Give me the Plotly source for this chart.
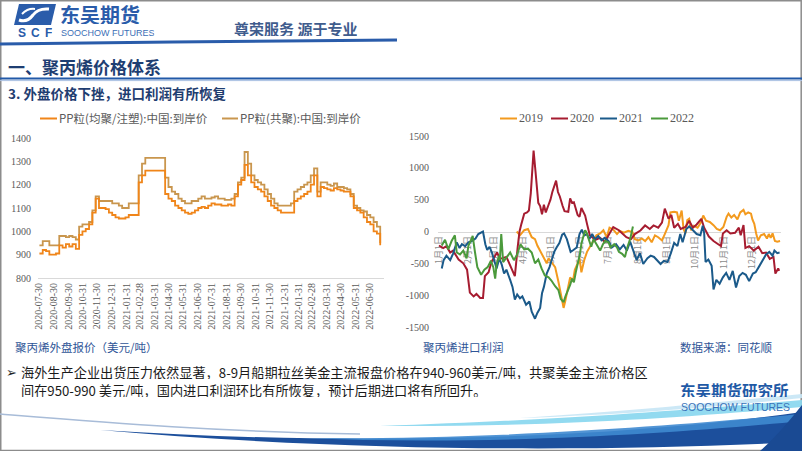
import plotly.graph_objects as go
import pandas as pd

W, H = 802, 451
def X(px): return px / W
def Y(py): return 1 - py / H

def pth(s):
    out, nums = [], []
    for t in s.replace(',', ' ').split():
        if t.isalpha():
            out.append(t)
        else:
            nums.append(float(t))
            if len(nums) == 2:
                out.append(f"{X(nums[0]):.5f},{Y(nums[1]):.5f}")
                nums = []
    return ' '.join(out)

# ---------------- data: left chart (weekly CFR prices, USD/t) ----------------
left_start = "2020-07-31"
pp_homo = [905,920,915,900,900,905,940,930,945,935,
           945,925,985,1000,1010,1030,1080,1140,1100,1100,
           1095,1080,1070,1060,1055,1055,1060,1070,1070,1070,
           1210,1240,1260,1260,1260,1260,1260,1260,1160,1140,
           1130,1110,1100,1090,1080,1075,1080,1090,1100,1105,
           1100,1110,1120,1115,1115,1110,1110,1115,1110,1150,
           1200,1220,1285,1240,1210,1190,1180,1170,1150,1130,
           1110,1100,1090,1080,1080,1080,1080,1130,1140,1150,
           1160,1170,1200,1240,1150,1190,1185,1180,1175,1185,
           1180,1175,1170,1170,1150,1100,1090,1080,1060,1040,
           1030,1000,990,940]
pp_co = [940,958,958,940,940,940,980,980,975,980,
         975,965,1020,1030,1030,1040,1090,1150,1130,1130,
         1130,1130,1120,1120,1110,1100,1100,1120,1120,1120,
         1240,1290,1315,1315,1315,1315,1315,1315,1230,1190,
         1170,1160,1140,1130,1120,1120,1130,1130,1140,1150,
         1140,1140,1145,1150,1140,1140,1135,1135,1140,1160,
         1210,1230,1340,1290,1240,1220,1210,1200,1180,1160,
         1140,1120,1110,1110,1110,1110,1120,1170,1180,1190,
         1200,1210,1240,1270,1170,1210,1210,1200,1195,1205,
         1190,1190,1185,1180,1160,1110,1100,1090,1085,1070,
         1060,1040,1020,950]
left_ticks = ["2020-07-30","2020-08-30","2020-09-30","2020-10-31","2020-11-30","2020-12-31",
              "2021-01-31","2021-02-28","2021-03-31","2021-04-30","2021-05-31","2021-06-30",
              "2021-07-31","2021-08-31","2021-09-30","2021-10-31","2021-11-30","2021-12-31",
              "2022-01-31","2022-02-28","2022-03-31","2022-04-30","2022-05-31","2022-06-30"]
left_names = ["PP粒(均聚/注塑):中国:到岸价", "PP粒(共聚):中国:到岸价"]

# ---------------- data: right chart (import profit by day of year) ----------------
d2019 = [83,86.5,91,95,99,102.5,105,108.5,112,115,117,120,124,127.5,130.5,133,135,137,140,143,
         145,148,150,152,155,158,161,165,168,172,175.5,179,182,186,190,193,197.5,202,206.5,209,
         213,216.5,220,223.5,227,230.5,234,238,241,245,247,251,254,256,259,261,263,265,267,269,
         272,276,279.5,282,285,289,293,296.5,300,303.5,307,309,312,315,318.5,321.5,325,327,330,333,
         334.5,336.5,338.5,340.5,343.5,347,350,352,354,356,358.5,361,364]
v2019 = [0,-60,20,40,-90,-120,-220,-320,-420,-500,-420,-480,-560,-790,-1020,-1200,-1080,-950,-720,-780,
         -600,-500,-420,-640,-450,-320,-250,-140,-60,-30,20,-90,60,30,-40,10,-20,10,-10,-120,
         -140,-110,-150,-90,-170,-60,-90,-140,-40,100,300,310,300,170,330,40,-30,180,200,20,
         90,60,140,250,170,150,100,40,20,70,230,280,220,260,190,300,340,270,300,280,
         190,120,-30,-140,-60,-40,-110,-40,-100,-30,-150,-160,-150]
d2020 = [0,4.6,8,12,15,21,26,30,33,37,40,44,47,49,53,56,62,65,72,76,
         81,84,86,88,91,94,96,98,100,101,103,106,108,110,112,114,117,119,121,125,
         127,129,132,134,138,140,142,144,148,150,152,154,156,158,161,167,172,177,181,186,
         192,195,200,205,209,215,220,225,229,234,238,241,245,248,251,255,258,263,267,271,
         275,280,283,288,293,298,301,303,307,311,316,320,322,325,327,331,336,341,345,349,
         353,357,359,362,363]
v2020 = [-220,-260,-230,-330,-300,-440,-500,-600,-960,-1020,-980,-1045,-1045,-700,-640,-480,-330,-430,-400,-540,
         -700,-250,0,120,280,300,330,600,1000,1270,950,450,400,270,420,300,420,500,620,800,
         620,550,400,320,310,520,450,460,260,230,370,320,250,120,-60,-130,-100,-160,-60,70,
         20,-20,-90,-120,-40,15,95,40,95,60,140,360,200,260,60,120,40,70,170,60,
         110,200,60,-80,-150,-200,-230,-30,20,-30,-20,60,-60,100,-260,-230,-300,-240,-340,-330,
         -430,-400,-660,-580,-620]
d2021 = [3,5,8,12,15,19,22,24.5,28,31.5,35,39,42,47,49.5,51.5,54,56.5,59.5,61.5,
         64.5,67,69.5,72,76,78.5,81,83.5,86.5,89,93,96.5,99,102.5,105,108,110,112,115,118,
         120.5,123,125.5,128.5,131.5,133.5,136.5,138.5,140.5,143.5,147,150,152.5,155,158,160.5,163.5,166.5,170,173.5,
         177,181,184.5,189,193,197,200.5,204,207.5,211,214.5,218,222.5,226,229.5,233,236.5,240,244,247.5,
         251,254.5,257.5,260,264,267,271,275,279,281.5,283,284.5,287.5,291,293,296,299.5,303,306.5,310,
         313.5,317,320.5,324,327.5,331,335,338,342,345.5,349,352.5,356,358,361,363.5]
v2021 = [-580,-450,-380,-450,-350,-170,-260,-200,-230,-170,-150,-110,-40,0,-200,-290,-240,-330,-480,-580,
         -420,-520,-660,-600,-760,-870,-1070,-990,-1050,-1020,-1150,-1100,-1260,-1370,-1280,-1200,-970,-870,-660,-560,
         -440,-320,-250,-180,-50,-30,-120,-220,-320,-290,-250,-40,30,-60,-40,-120,-40,-120,-70,-140,
         -100,-150,-250,-200,-280,-210,-300,-160,-300,-450,-340,-510,-420,-380,-400,-450,-510,-460,-480,-340,
         -180,-230,-40,-170,40,80,20,-40,-60,90,-20,-480,-440,-540,-910,-760,-820,-720,-650,-760,
         -620,-880,-700,-650,-680,-780,-660,-640,-540,-460,-360,-320,-380,-300,-340,-330]
d2022 = [3,6.5,10,13.5,17,19,22.5,26,29.5,31.5,34.5,36,38.5,41,45,48.5,52,55.5,58,60,
         61.5,64,65,66.5,68.5,71.5,76,80,83.5,87,91,95,99,102.5,106,109.5,113,117,120,124,
         127.5,130,133,135,138,140,142,144,146,149,150.5,152,154,156,157.5,160,162.5,165,168,172,
         175,177.5,181,183,187,190,192,195.5,198.5,201,204,207]
v2022 = [-220,-130,-280,-150,-60,-330,-360,-300,-420,-220,-130,-70,-330,-560,-680,-600,-560,-460,-560,-740,
         -520,-380,-450,-40,-480,-420,-330,-450,-360,-200,-280,-270,-330,-500,-440,-580,-690,-720,-770,-860,
         -920,-1060,-1110,-1020,-920,-840,-740,-800,-640,-450,-350,-190,-60,20,-20,-150,-240,-120,-190,-300,
         -200,-150,-170,-250,-200,-250,-320,-350,-400,-250,-120,80]
month_days = [0,31,59,90,120,151,181,212,243,273,304,334]
month_labels = [f"{m}月1日" for m in range(1, 13)]
right_yticks = [-1500,-1000,-500,0,500,1000,1500]
right_ytext = ["-1500","-1000","-500","0","500","1000","1500"]
years = ["2019", "2020", "2021", "2022"]

C_HOMO = "#F08519"
C_CO = "#C9964E"
YC = {"2019": "#F39A1E", "2020": "#A61C30", "2021": "#1B5A8A", "2022": "#4B9A3C"}
SERIF = "Liberation Serif"
CJK = "Noto Sans CJK SC"
BLUE = "#2A5CAA"

fig = go.Figure()
dates = pd.date_range(left_start, periods=len(pp_homo), freq="7D")
fig.add_trace(go.Scatter(x=dates, y=pp_co, mode="lines", line=dict(color=C_CO, width=1.8, shape="hv"),
                         xaxis="x", yaxis="y", hoverinfo="skip"))
fig.add_trace(go.Scatter(x=dates, y=pp_homo, mode="lines", line=dict(color=C_HOMO, width=1.8, shape="hv"),
                         xaxis="x", yaxis="y", hoverinfo="skip"))

for yr, d, v in [("2019", d2019, v2019), ("2020", d2020, v2020), ("2021", d2021, v2021), ("2022", d2022, v2022)]:
    fig.add_trace(go.Scatter(x=d, y=v, mode="lines", line=dict(color=YC[yr], width=2),
                             xaxis="x2", yaxis="y2", hoverinfo="skip"))

axis_common = dict(showgrid=False, zeroline=False, ticks="", automargin=False)
fig.update_layout(
    width=W, height=H, margin=dict(l=0, r=0, t=0, b=0),
    paper_bgcolor="white", plot_bgcolor="rgba(0,0,0,0)", showlegend=False,
    xaxis=dict(domain=[X(38), X(384)], type="date", range=["2020-07-28", "2022-07-30"],
               tickmode="array", tickvals=left_ticks, ticktext=left_ticks, tickangle=-90,
               tickfont=dict(family=SERIF, size=10, color="#595959"),
               showline=True, linecolor="#D9D9D9", linewidth=1, anchor="y", **axis_common),
    yaxis=dict(domain=[Y(278), Y(138)], range=[800, 1400], dtick=100,
               tickfont=dict(family=SERIF, size=10, color="#595959"),
               showline=False, anchor="x", ticklabelstandoff=6, **axis_common),
    xaxis2=dict(domain=[X(438), X(781)], range=[-1, 365], tickmode="array",
                tickvals=month_days, ticktext=month_labels, tickangle=-90,
                tickfont=dict(family=CJK, size=9, color="#8C8C8C"),
                showline=True, linecolor="#D9D9D9", linewidth=1, anchor="free",
                position=Y(231.5), layer="below traces", **axis_common),
    yaxis2=dict(domain=[Y(327), Y(136)], range=[-1500, 1500], tickmode="array",
                tickvals=right_yticks, ticktext=right_ytext,
                tickfont=dict(family=SERIF, size=10, color="#595959"),
                showline=False, anchor="x2", ticklabelstandoff=8, **axis_common),
)

shapes = []
anns = []
def line(x0, y0, x1, y1, color, width):
    shapes.append(dict(type="line", xref="paper", yref="paper", x0=X(x0), y0=Y(y0), x1=X(x1), y1=Y(y1),
                       line=dict(color=color, width=width)))
def text(x, y, s, size, color, family=CJK, anchor="left", bold=False, h=None, yanchor="middle"):
    if bold:
        s = f"<b>{s}</b>"
    a = dict(xref="paper", yref="paper", x=X(x), y=Y(y), text=s, showarrow=False,
             xanchor=anchor, yanchor=yanchor, font=dict(family=family, size=size, color=color))
    if h:
        a["height"] = h
        a["valign"] = "middle"
    anns.append(a)
def path(s, fill=None, color=None, width=0, opacity=1):
    d = dict(type="path", xref="paper", yref="paper", path=pth(s), opacity=opacity,
             line=dict(color=color or "rgba(0,0,0,0)", width=width))
    if fill:
        d["fillcolor"] = fill
    shapes.append(d)

# slide border
shapes.append(dict(type="rect", xref="paper", yref="paper", x0=X(0.75), y0=Y(450.5), x1=X(801.2), y1=Y(0.75),
                   line=dict(color="#8C8C8C", width=1.5)))

# header logo
path("M 19 4 L 56 4 L 51 25 L 14 25 Z", fill="#2A5CAA")
path("M 19 20 Q 27 23 33 15 Q 38 8 49 9", color="white", width=3)
path("M 22 14 Q 28 8 35 9", color="white", width=2)
for lx, ch in [(22, "S"), (35, "C"), (48, "F")]:
    text(lx, 32.5, ch, 12, BLUE, family="Liberation Sans", anchor="center", bold=True, h=11)
text(58, 14.5, "东吴期货", 20, BLUE, bold=True, h=19)
text(59, 33, "SOOCHOW FUTURES", 9, "#3C6FB6", family="Liberation Sans", h=9)
text(232, 28, "尊荣服务 源于专业", 15, "#3F5C8D", bold=True, h=16)
path("M 0 44 C 120 42 300 41 397 40", color="#2A5CAA", width=3)

# section title
text(6, 66, "一、聚丙烯价格体系", 17, "#1E3E72", bold=True)
line(0, 78.5, 802, 78.5, "#2159A8", 2)
line(0, 80.6, 802, 80.6, "#A9C1E3", 1)
text(6, 93, "3. 外盘价格下挫，进口利润有所恢复", 13.5, "#1F3D70", bold=True)

# manual legends
line(40, 118.5, 57, 118.5, C_HOMO, 2)
text(57, 118.5, left_names[0], 11.5, "#595959")
line(222, 118.5, 238, 118.5, C_CO, 2)
text(238, 118.5, left_names[1], 11.5, "#595959")
for yr, lx in zip(years, [500, 551, 600, 651]):
    line(lx, 118.5, lx + 17, 118.5, YC[yr], 2)
    text(lx + 17, 118.5, yr, 12, "#595959", family=SERIF)

# captions
text(13, 347, "聚丙烯外盘报价（美元/吨）", 11.5, "#2F5597")
text(421, 347, "聚丙烯进口利润", 11.5, "#2F5597")
text(678, 347, "数据来源：同花顺", 11.5, "#2F5597")

# bottom commentary
text(4, 371.5, "➢", 13, "#222222", family="DejaVu Sans", h=12)
text(19, 371.5, "海外生产企业出货压力依然显著，8-9月船期拉丝美金主流报盘价格在940-960美元/吨，共聚美金主流价格区",
     13.2, "#1A1A1A", h=14)
text(19, 390, "间在950-990 美元/吨，国内进口利润环比有所恢复，预计后期进口将有所回升。",
     13.2, "#1A1A1A", h=14)

# bottom swoosh
path("M 0 414 C 100 422 220 432 360 434", color="#A8BCD8", width=1.5)
path("M 100 430 C 350 446 600 440 802 412 L 802 442 C 600 452 350 452 100 430 Z", fill="#1C4F9C")
path("M 300 438 C 500 440 680 425 802 414 L 802 421 C 680 433 500 446 300 438 Z", fill="#3F8AD0", opacity=0.9)
path("M 380 426 C 560 420 690 410 802 400 L 802 407 C 690 417 560 427 380 426 Z", fill="#86D6EE", opacity=0.9)
path("M 520 418 C 640 410 720 402 802 394 L 802 398 C 720 406 640 414 520 418 Z", fill="#C6E6F5", opacity=0.9)
path("M 760 451 L 802 451 L 802 405 C 790 420 775 438 760 451 Z", fill="#1A4A93")

# bottom-right logo
text(678, 390, "东吴期货研究所", 15.5, "#1F5AA6", bold=True, h=14)
text(679, 407, "SOOCHOW FUTURES", 10.5, "#3B73B9", family="Liberation Sans", h=10)

fig.update_layout(shapes=shapes, annotations=anns)
fig.write_html("out.html")
